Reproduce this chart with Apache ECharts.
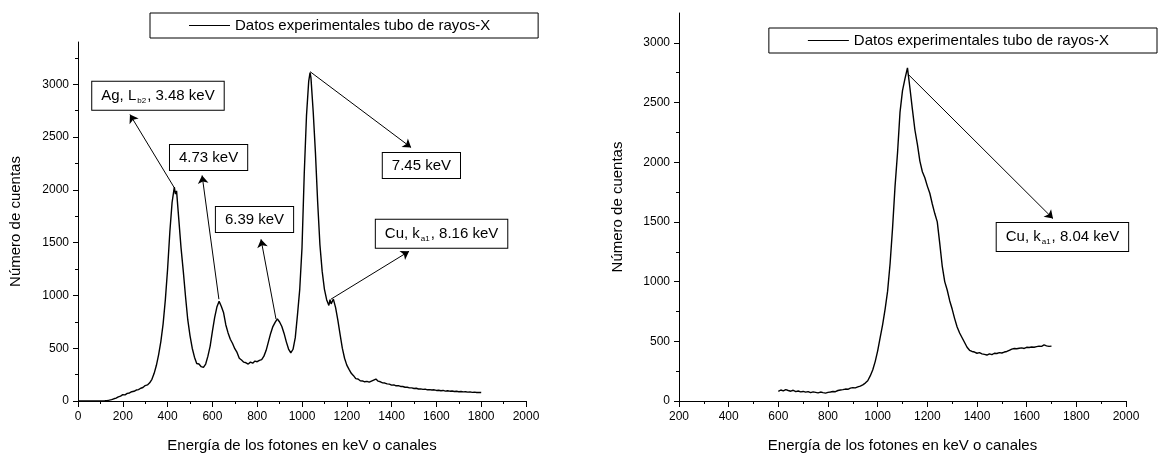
<!DOCTYPE html>
<html>
<head>
<meta charset="utf-8">
<script src="https://cdn.jsdelivr.net/npm/echarts@6/dist/echarts.min.js"></script>
<style>
html,body{margin:0;padding:0;background:#fff;}
#chart{width:1161px;height:458px;}
</style>
</head>
<body>
<div id="chart"></div>
<script>
// ---------- data ----------
const seriesName = 'Datos experimentales tubo de rayos-X';
const xAxisTitle = 'Energía de los fotones en keV o canales';
const yAxisTitle = 'Número de cuentas';
const yTickValuesLeft = [0, 500, 1000, 1500, 2000, 2500, 3000];
const yTickValuesRight = [0, 500, 1000, 1500, 2000, 2500, 3000];

// left spectrum: [channel, counts]
const leftSpectrum = [
[0,0],[10,0],[20,0],[30,0],[40,0],[50,0],[60,0],[70,0],[80,0],[90,0],[100,0],[110,1],[120,2],[130,4],[140,8],[150,13],[160,21],[170,27],[180,39],[190,46],
[200,60],[210,58],[220,72],[230,76],[240,88],[250,92],[260,104],[270,108],[280,121],[290,128],[300,146],[310,152],[320,172],[330,205],[340,262],[350,338],[360,440],[370,565],[380,730],[390,960],
[400,1250],[410,1600],[420,1880],[430,2025],[435,1960],[440,1990],[450,1720],[460,1450],[470,1230],[480,990],[490,770],[500,620],[510,500],[520,415],[530,355],[540,350],[550,325],[560,318],[570,350],[580,425],
[590,520],[600,660],[610,790],[620,890],[630,945],[640,895],[650,835],[660,720],[670,645],[680,585],[690,545],[700,495],[710,460],[720,405],[730,388],[740,368],[750,362],[760,350],[770,368],[780,358],
[790,378],[800,372],[810,385],[820,392],[830,425],[840,480],[850,560],[860,640],[870,705],[880,745],[890,778],[900,748],[910,705],[920,640],[930,560],[940,492],[950,455],[960,490],[970,600],[980,820],
[990,1060],[1000,1450],[1010,2150],[1020,2700],[1030,3030],[1036,3110],[1040,3060],[1050,2740],[1060,2350],[1070,1880],[1080,1480],[1090,1230],[1100,1060],[1110,960],[1120,905],[1125,960],[1130,920],[1140,965],[1150,885],[1160,765],
[1170,630],[1180,500],[1190,405],[1200,340],[1210,300],[1220,262],[1230,240],[1240,212],[1250,208],[1260,192],[1270,190],[1280,182],[1290,186],[1300,178],[1310,188],[1320,198],[1330,208],[1340,188],[1350,182],[1360,172],
[1370,170],[1380,162],[1390,160],[1400,150],[1410,153],[1420,144],[1430,146],[1440,138],[1450,137],[1460,130],[1470,130],[1480,124],[1490,124],[1500,118],[1510,121],[1520,114],[1530,115],[1540,110],[1550,113],[1560,106],
[1570,108],[1580,104],[1590,106],[1600,100],[1610,102],[1620,97],[1630,100],[1640,94],[1650,97],[1660,93],[1670,95],[1680,90],[1690,92],[1700,88],[1710,90],[1720,86],[1730,88],[1740,84],[1750,86],[1760,82],
[1770,84],[1780,80],[1790,82],[1800,80]
];

// right spectrum: [channel, counts]
const rightSpectrum = [
[600,80],[610,92],[620,85],[630,95],[640,88],[650,82],[660,90],[670,78],[680,84],[690,76],[700,80],[710,74],[720,79],[730,70],[740,76],[750,72],[760,68],[770,75],[780,70],[790,66],
[800,72],[810,75],[820,80],[830,78],[840,88],[850,92],[860,95],[870,100],[880,98],[890,108],[900,112],[910,110],[920,118],[930,125],[940,135],[950,150],[960,170],[970,210],[980,260],[990,330],
[1000,420],[1010,530],[1020,640],[1030,770],[1040,920],[1050,1150],[1060,1450],[1070,1800],[1080,2080],[1090,2420],[1100,2600],[1110,2700],[1120,2790],[1130,2620],[1140,2440],[1150,2270],[1160,2150],[1170,2010],[1180,1920],[1190,1870],
[1200,1800],[1210,1740],[1220,1650],[1230,1570],[1240,1500],[1250,1320],[1260,1130],[1270,1000],[1280,930],[1290,840],[1300,770],[1310,690],[1320,620],[1330,570],[1340,530],[1350,490],[1360,450],[1370,425],[1380,415],[1390,410],
[1400,400],[1410,405],[1420,395],[1430,390],[1440,385],[1450,395],[1460,388],[1470,400],[1480,398],[1490,405],[1500,402],[1510,410],[1520,415],[1530,425],[1540,435],[1550,440],[1560,438],[1570,442],[1580,445],[1590,440],
[1600,450],[1610,448],[1620,452],[1630,450],[1640,455],[1650,460],[1660,458],[1670,470],[1680,462],[1690,458],[1700,460]
];

// annotation labels (text, box centre in data units)
const leftLabels = [
  {text: 'Ag, L{sub|b2}, 3.48 keV', at: [357, 2892]},
  {text: '4.73 keV', at: [583, 2306]},
  {text: '6.39 keV', at: [788, 1720]},
  {text: '7.45 keV', at: [1533, 2231]},
  {text: 'Cu, k{sub|a1}, 8.16 keV', at: [1623, 1583]}
];
// arrows: from (data) -> to (data)
const leftArrows = [
  [[429, 2023], [232, 2713]],
  [[629, 964], [554, 2136]],
  [[884, 775], [817, 1531]],
  [[1036, 3119], [1487, 2401]],
  [[1129, 964], [1478, 1418]]
];
const rightLabels = [
  {text: 'Cu, k{sub|a1}, 8.04 keV', at: [1744, 1373]}
];
const rightArrows = [
  [[1122, 2738], [1706, 1528]]
];

// ---------- chart ----------
const FONT = "'Liberation Sans', Arial, sans-serif";
const chart = echarts.init(document.getElementById('chart'), null, {renderer: 'canvas'});

function labelPoints(list) {
  return list.map(l => ({coord: l.at, value: l.text}));
}
function arrowLines(list) {
  return list.map(a => [{coord: a[0]}, {coord: a[1]}]);
}
const boxLabel = {
  show: true,
  position: 'inside',
  formatter: p => p.value,
  color: '#000',
  fontFamily: FONT,
  fontSize: 15,
  backgroundColor: '#fff',
  borderColor: '#000',
  borderWidth: 1,
  padding: [5, 9, 5, 9],
  rich: {
    sub: {fontSize: 8, fontFamily: FONT, color: '#000', verticalAlign: 'bottom', padding: [10, 1, 0, 1]}
  }
};
const plainNum = v => String(v);

function xAxisCfg(gridIndex, min) {
  return {
    type: 'value', gridIndex, min, max: 2000, interval: 200,
    name: xAxisTitle, nameLocation: 'middle', nameGap: 37,
    nameTextStyle: {color: '#000', fontSize: 15, fontFamily: FONT},
    axisLine: {show: true, onZero: false, lineStyle: {color: '#000', width: 1}},
    axisTick: {show: true, length: 6, lineStyle: {color: '#000'}},
    minorTick: {show: true, splitNumber: 2, length: 3, lineStyle: {color: '#000'}},
    axisLabel: {color: '#000', fontSize: 12, fontFamily: FONT, margin: 10, formatter: plainNum},
    splitLine: {show: false}
  };
}
function yAxisCfg(gridIndex, max, ticks, nameGap) {
  return {
    type: 'value', gridIndex, min: 0, max, interval: 500,
    name: yAxisTitle, nameLocation: 'middle', nameGap,
    nameTextStyle: {color: '#000', fontSize: 15, fontFamily: FONT},
    axisLine: {show: true, onZero: false, lineStyle: {color: '#000', width: 1}},
    axisTick: {show: true, length: 5, lineStyle: {color: '#000'}, customValues: ticks},
    minorTick: {show: true, splitNumber: 2, length: 3, lineStyle: {color: '#000'}},
    axisLabel: {color: '#000', fontSize: 12, fontFamily: FONT, margin: 9, customValues: ticks, formatter: plainNum},
    splitLine: {show: false}
  };
}
function legendCfg(pos) {
  return Object.assign({
    orient: 'horizontal', selectedMode: false,
    data: [seriesName],
    icon: 'rect', itemWidth: 41, itemHeight: 1,
    borderColor: '#000', borderWidth: 1, borderRadius: 0,
    padding: [5, 48, 5, 39],
    textStyle: {color: '#000', fontSize: 15, fontFamily: FONT},
    itemStyle: {color: '#000'}
  }, pos);
}
function arrowMarkLine(list) {
  return {
    silent: true, symbol: ['none', 'arrow'], symbolSize: 8,
    lineStyle: {color: '#000', width: 1, type: 'solid'},
    label: {show: false},
    emphasis: {disabled: true},
    data: arrowLines(list)
  };
}

const option = {
  backgroundColor: '#fff',
  animation: false,
  textStyle: {fontFamily: FONT},
  grid: [
    {left: 78, top: 42, width: 448, height: 360},
    {left: 679, top: 13, width: 447, height: 389}
  ],
  xAxis: [xAxisCfg(0, 0), xAxisCfg(1, 200)],
  yAxis: [yAxisCfg(0, 3400, yTickValuesLeft, 55), yAxisCfg(1, 3250, yTickValuesRight, 54)],
  legend: [
    legendCfg({left: 150, top: 13}),
    legendCfg({right: 4, top: 28})
  ],
  series: [
    {
      name: seriesName, type: 'line', xAxisIndex: 0, yAxisIndex: 0,
      data: leftSpectrum, symbol: 'none', smooth: false,
      lineStyle: {color: '#000', width: 1.4}, itemStyle: {color: '#000'},
      markPoint: {
        symbol: 'circle', symbolSize: 0, silent: true,
        label: boxLabel,
        data: labelPoints(leftLabels)
      },
      markLine: arrowMarkLine(leftArrows)
    },
    {
      name: seriesName, type: 'line', xAxisIndex: 1, yAxisIndex: 1,
      data: rightSpectrum, symbol: 'none', smooth: false,
      lineStyle: {color: '#000', width: 1.4}, itemStyle: {color: '#000'},
      markPoint: {
        symbol: 'circle', symbolSize: 0, silent: true,
        label: boxLabel,
        data: labelPoints(rightLabels)
      },
      markLine: arrowMarkLine(rightArrows)
    }
  ]
};
chart.setOption(option);
</script>
</body>
</html>
